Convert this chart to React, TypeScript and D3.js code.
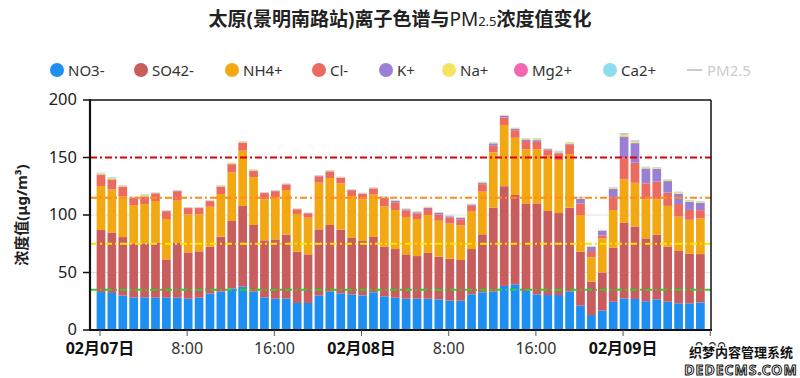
import React from "react";
import * as d3 from "d3";

// ---------- data ----------
const times = [
  "02-07 00:00","02-07 01:00","02-07 02:00","02-07 03:00","02-07 04:00","02-07 05:00","02-07 06:00","02-07 07:00",
  "02-07 08:00","02-07 09:00","02-07 10:00","02-07 11:00","02-07 12:00","02-07 13:00","02-07 14:00","02-07 15:00",
  "02-07 16:00","02-07 17:00","02-07 18:00","02-07 19:00","02-07 20:00","02-07 21:00","02-07 22:00","02-07 23:00",
  "02-08 00:00","02-08 01:00","02-08 02:00","02-08 03:00","02-08 04:00","02-08 05:00","02-08 06:00","02-08 07:00",
  "02-08 08:00","02-08 09:00","02-08 10:00","02-08 11:00","02-08 12:00","02-08 13:00","02-08 14:00","02-08 15:00",
  "02-08 16:00","02-08 17:00","02-08 18:00","02-08 19:00","02-08 20:00","02-08 21:00","02-08 22:00","02-08 23:00",
  "02-09 00:00","02-09 01:00","02-09 02:00","02-09 03:00","02-09 04:00","02-09 05:00","02-09 06:00","02-09 07:00",
];

const NO3 = [33,32.2,29.9,28.3,28.4,28.1,28.1,28.1,27.2,28.1,31.6,33.3,36.2,37.7,33.3,28.4,27.2,27.4,23.5,23.5,30.1,33.3,31.9,31,30.1,32.8,29.3,28.1,27.2,27.2,27.2,26.7,25.5,25.5,31,32.8,33.3,38.3,39.7,33.9,31,30.4,30.4,33.3,21.2,13,16.8,24.6,27.5,27,25,26.7,24.6,23.2,23.2,24];
const SO4 = [54,52.6,50.9,47.1,47,48.1,33.3,48.1,40.3,40.3,40.9,47.9,58.6,70.1,58,49.6,51.6,55.6,44.6,42.3,57.4,58,55.3,49,47.3,48.1,43.2,42.3,38.6,37.1,39.8,37.1,36.5,35.4,39.4,50.4,73.1,86.7,77.7,76.2,79.1,73.1,71.3,73.1,46.9,29,33.2,47,65.8,63,54.7,56,48,45.5,43,42];
const NH4 = [38.2,37.5,35.4,33,34.2,36,35.1,36.3,33.1,32.2,34.7,37.1,42.3,48.1,41.5,35.6,36.3,38.7,32.8,31.9,40.6,40.9,40.3,36.5,36.2,36.8,35,33.9,32.5,32.2,33,31.2,30.5,30.1,33.1,37.1,48.1,53.3,49.8,47,47,48.1,46.1,46.6,31.9,21.2,29.7,32.7,37.7,38,34,31,35.3,29.9,29.6,31];
const Cl = [9.8,8.5,8.3,6.6,6.4,6.5,6.8,8.2,5.4,5.4,4.8,6.2,7,6.8,5.6,5.4,5.6,4.8,4,3.7,5.5,5.6,4.8,5,4.8,5.3,7.5,6.7,5.5,4.9,5.2,5.4,5.2,5.3,4.5,6.5,5.8,6.5,6.5,7.3,6.5,4.8,5.8,8.4,10,5.5,2.5,10.5,18.3,17.5,13.8,15.4,11.6,11,8.6,7.2];
const K = [0.3,0.3,0.3,0.3,0.3,0.3,0.3,0.3,0.3,0.3,0.3,0.3,0.3,0.3,0.3,0.3,0.3,0.3,0.3,0.3,0.3,0.3,0.3,0.3,0.3,0.3,0.3,1.2,1.2,1,1.2,1.4,1.2,1.2,1,1,2,1.5,1.3,1.3,1.5,0.8,0.8,0.5,4,3.5,4,8,19,17,13,11,10,9,7,6.5];
const Na = [0.9,1.0,0.7,0.4,1.0,0.4,0.4,0.4,0.4,0.4,0.4,0.7,0.7,0.8,0.6,0.4,0.4,0.4,0.4,0.4,0.5,0.6,0.4,0.5,0.4,0.4,0.7,0.5,0.5,0.5,0.5,0.5,0.5,0.5,0.5,0.7,0.5,0.4,0.5,0.6,1.0,0.5,0.9,1.0,1.2,0.6,0.6,0.9,1.8,1.5,0.9,0.9,0.9,1.0,1.0,0.9];
const Mg = [0.1,0.1,0.1,0.1,0.1,0.1,0.1,0.1,0.1,0.1,0.1,0.1,0.1,0.1,0.1,0.1,0.1,0.1,0.1,0.1,0.1,0.1,0.1,0.1,0.1,0.1,0.1,0.1,0.1,0.1,0.1,0.1,0.1,0.1,0.1,0.1,0.1,0.1,0.1,0.1,0.1,0.1,0.1,0.1,0.1,0.1,0.1,0.1,0.3,0.3,0.1,0.1,0.1,0.1,0.1,0.1];
const Ca = [0.5,0.6,0.4,0.2,0.6,0.2,0.2,0.2,0.2,0.2,0.2,0.4,0.3,0.4,0.3,0.2,0.2,0.2,0.1,0.1,0.3,0.3,0.2,0.2,0.2,0.2,0.4,0.2,0.2,0.2,0.2,0.2,0.2,0.2,0.2,0.4,0.3,0.2,0.3,0.3,0.5,0.2,0.5,0.5,0.7,0.3,0.3,0.5,0.9,0.7,0.5,0.5,0.5,0.6,0.5,0.5];

const seriesNames = ["NO3-", "SO42-", "NH4+", "Cl-", "K+", "Na+", "Mg2+", "Ca2+"];
const seriesValues = [NO3, SO4, NH4, Cl, K, Na, Mg, Ca];
const seriesColors = ["#1e8ff2", "#c95c5c", "#f2a812", "#ec6b5e", "#9b7fd4", "#f3e462", "#f566b0", "#8fdcef"];

const refLevels = [150, 115, 75, 35];
const refColors = ["#dd0000", "#ff8c1a", "#f7e600", "#33cc33"];

const yTicks = [0, 50, 100, 150, 200];
const gridLevels = [50, 100];
const xTickTimes = ["02-07 00:00","02-07 08:00","02-07 16:00","02-08 00:00","02-08 08:00","02-08 16:00","02-09 00:00","02-09 08:00"];
const xTickLabels = ["02月07日","8:00","16:00","02月08日","8:00","16:00","02月09日","8:00"];
const xDomain = ["02-06 23:05", "02-09 08:04"];

// ---------- layout ----------
const W = 800, H = 378;
const left = 90, right = 711, top = 100, bottom = 330;
const FONT = "'Noto Sans', 'Noto Sans CJK SC', sans-serif";

export default function App() {
  const parse = d3.timeParse("%m-%d %H:%M");
  const x = d3.scaleTime().domain(xDomain.map((s) => parse(s) as Date)).range([left, right]);
  const y = d3.scaleLinear().domain([0, 200]).range([bottom, top]);

  const table = times.map((t, i) => {
    const row: any = { t: parse(t) };
    seriesNames.forEach((n, k) => (row[n] = seriesValues[k][i]));
    return row;
  });
  const stacked = d3.stack().keys(seriesNames)(table as any);
  const barW = 8.7;
  const barShift = 1;

  const legendX = [57, 141, 232, 319, 386, 449, 521, 610];
  const legendY = 70;

  return (
    <svg width={W} height={H} style={{ position: "fixed", left: 0, top: 0, background: "#fff" }} fontFamily={FONT}>
      <rect width={W} height={H} fill="#fff" />
      {/* title */}
      <text x={400} y={26} textAnchor="middle" fontSize={19} fontWeight="bold" fill="#222">
        太原(景明南路站)离子色谱与<tspan fontWeight="normal">PM</tspan><tspan fontSize={13} fontWeight="normal">2.5</tspan>浓度值变化
      </text>

      {/* legend */}
      {seriesNames.map((n, k) => (
        <g key={n}>
          <circle cx={legendX[k]} cy={legendY} r={7} fill={seriesColors[k]} />
          <text x={legendX[k] + 11} y={legendY + 5.5} fontSize={15} fill="#333">{n}</text>
        </g>
      ))}
      <line x1={687} x2={702} y1={legendY} y2={legendY} stroke="#ccc" strokeWidth={2} />
      <text x={707} y={legendY + 5.5} fontSize={15} fill="#ccc">PM2.5</text>

      {/* grid */}
      {gridLevels.map((v) => (
        <line key={v} x1={left} x2={right} y1={y(v)} y2={y(v)} stroke="#e3e3e3" strokeWidth={1} />
      ))}

      {/* bars */}
      {stacked.map((layer, k) => (
        <g key={seriesNames[k]} fill={seriesColors[k]}>
          {layer.map((d: any, i: number) => (
            <rect
              key={i}
              x={x(table[i].t) + barShift - barW / 2}
              width={barW}
              y={y(d[1])}
              height={Math.max(0, y(d[0]) - y(d[1]))}
            />
          ))}
        </g>
      ))}

      {/* reference lines */}
      {refLevels.map((v, k) => (
        <line key={v} x1={left} x2={right} y1={y(v)} y2={y(v)} stroke={refColors[k]}
          strokeWidth={k === 0 ? 2 : 1.8} strokeDasharray="7 3 2 3" />
      ))}

      {/* frame */}
      <line x1={left} x2={right} y1={top} y2={top} stroke="#111" strokeWidth={1.5} />
      <line x1={right} x2={right} y1={top} y2={bottom} stroke="#111" strokeWidth={1.5} />
      <line x1={left} x2={left} y1={top - 1} y2={bottom + 1} stroke="#111" strokeWidth={2.2} />
      <line x1={left - 1} x2={right + 1} y1={bottom} y2={bottom} stroke="#111" strokeWidth={2.2} />

      {/* y axis */}
      {yTicks.map((v) => (
        <g key={v}>
          <line x1={left - 7} x2={left} y1={y(v)} y2={y(v)} stroke="#111" strokeWidth={1.5} />
          <text x={77} y={y(v) + 5} textAnchor="end" fontSize={16.5} fill="#222">{v}</text>
        </g>
      ))}
      <text transform={`translate(27,${(top + bottom) / 2}) rotate(-90)`} textAnchor="middle" fontSize={15} fontWeight="bold" fill="#222">
        浓度值(μg/m³)
      </text>

      {/* x axis */}
      {xTickTimes.map((s, i) => {
        const px = x(parse(s) as Date);
        const isDay = xTickLabels[i].includes("月");
        return (
          <g key={s}>
            <line x1={px} x2={px} y1={bottom} y2={bottom + 6} stroke="#555" strokeWidth={1} />
            <text x={px} y={354} textAnchor="middle" fontSize={16} fontWeight={isDay ? "bold" : "normal"} fill={isDay ? "#111" : "#333"}>
              {xTickLabels[i]}
            </text>
          </g>
        );
      })}

      {/* watermark */}
      <text x={741} y={357} textAnchor="middle" fontSize={13} fontWeight="bold" fill="#111" stroke="#fff" strokeWidth={3} paintOrder="stroke">
        织梦内容管理系统
      </text>
      <text x={741} y={375} textAnchor="middle" fontSize={14} fontWeight="bold" fill="#fff" stroke="#111" strokeWidth={1} letterSpacing={1}>
        DEDECMS.COM
      </text>
    </svg>
  );
}
